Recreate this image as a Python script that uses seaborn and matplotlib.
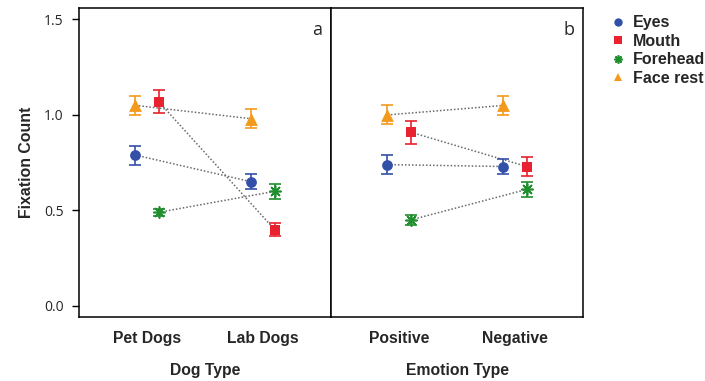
import numpy as np
import pandas as pd
import seaborn as sns
import matplotlib
matplotlib.use("Agg")
import matplotlib.pyplot as plt
from matplotlib.lines import Line2D

# ---- data ----
series = ["Eyes", "Mouth", "Forehead", "Face rest"]
dog_types = ["Pet Dogs", "Lab Dogs"]
emotion_types = ["Positive", "Negative"]

# panel a (Dog Type): means per series, [Pet, Lab]
a_eyes = [0.79, 0.65]
a_mouth = [1.07, 0.40]
a_forehead = [0.49, 0.60]
a_face = [1.05, 0.98]
a_eyes_err = [0.05, 0.04]
a_mouth_err = [0.06, 0.035]
a_forehead_err = [0.02, 0.04]
a_face_err = [0.05, 0.05]

# panel b (Emotion Type): [Positive, Negative]
b_eyes = [0.74, 0.73]
b_mouth = [0.91, 0.73]
b_forehead = [0.45, 0.61]
b_face = [1.00, 1.05]
b_eyes_err = [0.05, 0.04]
b_mouth_err = [0.06, 0.05]
b_forehead_err = [0.025, 0.04]
b_face_err = [0.05, 0.05]

yticks = [0.0, 0.5, 1.0, 1.5]

colors = {"Eyes": "#3350a8", "Mouth": "#e8222e", "Forehead": "#1f8f2e", "Face rest": "#f39a1c"}
markers = {"Eyes": "o", "Mouth": "s", "Forehead": (8, 2, 0), "Face rest": "^"}
msizes = {"Eyes": 60, "Mouth": 50, "Forehead": 65, "Face rest": 85}
offsets = {"Eyes": -0.1, "Mouth": 0.1, "Forehead": 0.1, "Face rest": -0.1}


def make_df(cats, vals, errs):
    rows = []
    for s, v, e in zip(series, vals, errs):
        for i, c in enumerate(cats):
            rows.append({"cat": c, "idx": i, "series": s, "value": v[i], "err": e[i]})
    return pd.DataFrame(rows)


df_a = make_df(dog_types, [a_eyes, a_mouth, a_forehead, a_face],
               [a_eyes_err, a_mouth_err, a_forehead_err, a_face_err])
df_b = make_df(emotion_types, [b_eyes, b_mouth, b_forehead, b_face],
               [b_eyes_err, b_mouth_err, b_forehead_err, b_face_err])

sns.set_theme(style="white")
plt.rcParams["font.family"] = ["Liberation Sans", "DejaVu Sans"]

fig = plt.figure(figsize=(7.05, 3.81), dpi=100)
ax_a = fig.add_axes([79 / 705, 1 - 317 / 381, 252 / 705, 309 / 381])
ax_b = fig.add_axes([331 / 705, 1 - 317 / 381, 252 / 705, 309 / 381])


def draw(ax, df, cats, xlabel, letter):
    df = df.copy()
    df["x"] = df["idx"] + df["series"].map(offsets)
    # dotted connecting lines
    for s in series:
        d = df[df["series"] == s]
        ax.plot(d["x"], d["value"], linestyle=(0, (1, 1.3)), color="#6a6a6a", lw=1.1, zorder=1)
    # error bars
    for s in series:
        d = df[df["series"] == s]
        ax.errorbar(d["x"], d["value"], yerr=d["err"], fmt="none", ecolor=colors[s],
                    elinewidth=1.2, capsize=4.5, capthick=1.2, zorder=2)
    # markers
    for s in series:
        d = df[df["series"] == s]
        sns.scatterplot(data=d, x="x", y="value", ax=ax, color=colors[s], marker=markers[s],
                        s=msizes[s], linewidth=1.2 if s == "Forehead" else 0,
                        edgecolor=colors[s], zorder=3, legend=False)
    ax.set_xlim(-0.586, 1.586)
    ax.set_ylim(-0.058, 1.56)
    ax.set_xticks([0, 1])
    ax.set_xticklabels(cats, fontsize=11.3, fontweight="bold")
    ax.tick_params(axis="x", length=0, pad=10)
    ax.set_xlabel(xlabel, fontsize=11.3, fontweight="bold", labelpad=12)
    ax.set_ylabel("")
    for sp in ax.spines.values():
        sp.set_color("black")
        sp.set_linewidth(1.1)
    ax.text(0.945, 0.93, letter, transform=ax.transAxes, fontsize=13,
            family=["Open Sans", "DejaVu Sans"], ha="center", va="center")


draw(ax_a, df_a, dog_types, "Dog Type", "a")
draw(ax_b, df_b, emotion_types, "Emotion Type", "b")

ax_a.set_yticks(yticks)
ax_a.set_yticklabels([f"{t:.1f}" for t in yticks], fontsize=10, family=["Open Sans", "DejaVu Sans"])
ax_a.tick_params(axis="y", left=True, length=5, width=1, color="black", pad=6)
ax_a.set_ylabel("Fixation Count", fontsize=11.4, fontweight="bold", labelpad=7)
ax_b.set_yticks([])

handles = [Line2D([], [], linestyle="none", marker=markers[s], color=colors[s],
                  markersize=6 if s != "Mouth" else 5.5, markeredgewidth=1.2 if s == "Forehead" else 0)
           for s in series]
fig.legend(handles, series, loc="upper left", bbox_to_anchor=(604 / 705, 1 - 9 / 381),
           frameon=False, prop={"family": "Liberation Sans", "weight": "bold", "size": 11.5},
           handlelength=1.0, handletextpad=0.4, labelspacing=0.22, borderaxespad=0)

fig.savefig("out.png", dpi=100, facecolor="white")
